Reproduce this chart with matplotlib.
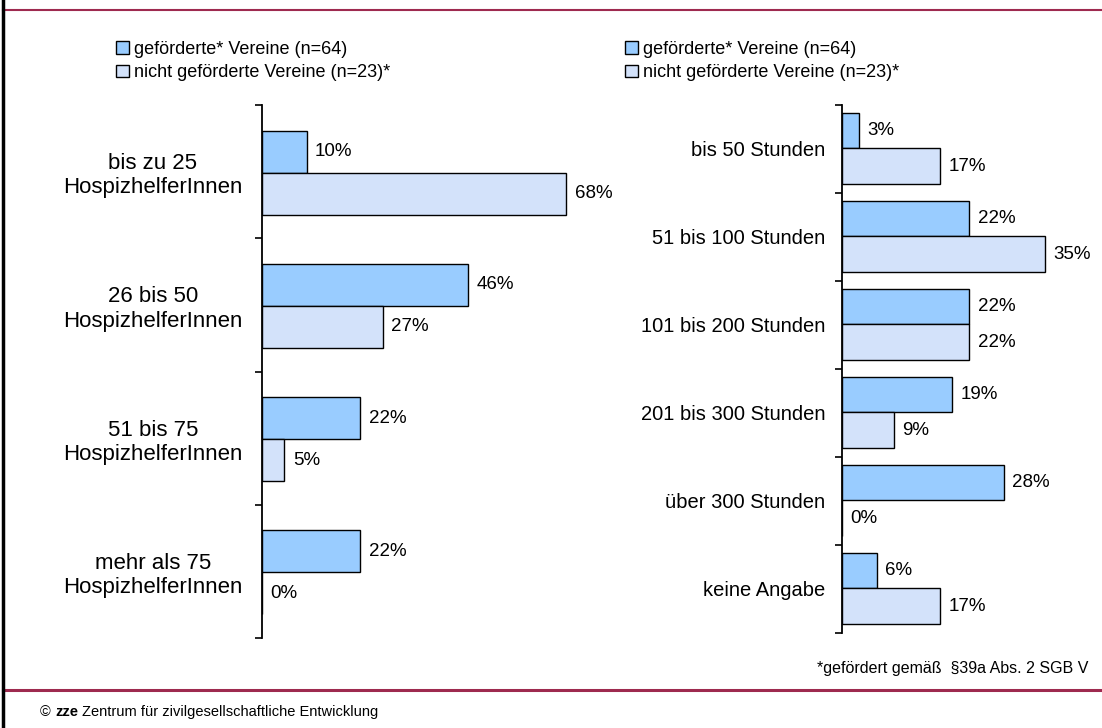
import matplotlib
matplotlib.use("Agg")
import matplotlib.pyplot as plt
from matplotlib.patches import Patch
from matplotlib.lines import Line2D
import numpy as np

plt.rcParams['font.family'] = ['Liberation Sans', 'DejaVu Sans']

# data
left_cats = ["bis zu 25\nHospizhelferInnen", "26 bis 50\nHospizhelferInnen",
             "51 bis 75\nHospizhelferInnen", "mehr als 75\nHospizhelferInnen"]
left_gef = [10, 46, 22, 22]
left_nicht = [68, 27, 5, 0]

right_cats = ["bis 50 Stunden", "51 bis 100 Stunden", "101 bis 200 Stunden",
              "201 bis 300 Stunden", "über 300 Stunden", "keine Angabe"]
right_gef = [3, 22, 22, 19, 28, 6]
right_nicht = [17, 35, 22, 9, 0, 17]

legend_labels = ["geförderte* Vereine (n=64)", "nicht geförderte Vereine (n=23)*"]
footnote = "*gefördert gemäß  §39a Abs. 2 SGB V"

c_gef = "#99CCFF"
c_nicht = "#D3E2FA"
c_line = "#9E2A4F"

W, H = 1102, 728
fig = plt.figure(figsize=(W / 100, H / 100), dpi=100)

# background axes for frame lines and footer
bg = fig.add_axes([0, 0, 1, 1], zorder=0)
bg.set_xlim(0, W)
bg.set_ylim(H, 0)
bg.axis('off')
bg.add_line(Line2D([3, W], [10, 10], color=c_line, lw=1.5))
bg.add_line(Line2D([3, W], [690, 690], color=c_line, lw=2.2))
bg.add_line(Line2D([3, 3], [0, H], color="black", lw=2.5))
bg.text(1088, 668, footnote, ha='right', va='center', fontsize=11.5)
t1 = bg.text(40, 712, "©", ha='left', va='center', fontsize=10.5)
t2 = bg.annotate("zze", xy=(1, 0.5), xycoords=t1, xytext=(3, 0), textcoords='offset points',
                 ha='left', va='center', fontsize=10.5, fontweight='bold')
bg.annotate("Zentrum für zivilgesellschaftliche Entwicklung", xy=(1, 0.5), xycoords=t2,
            xytext=(3, 0), textcoords='offset points', ha='left', va='center', fontsize=10.5)


def panel(rect, cats, gef, nicht, xmax, h, off, label_size, pad):
    ax = fig.add_axes(rect, zorder=1)
    n = len(cats)
    y = np.arange(n) + 0.5
    b1 = ax.barh(y - off, gef, height=h, align='edge', color=c_gef, edgecolor='black', lw=1)
    b2 = ax.barh(y - off + h, nicht, height=h, align='edge', color=c_nicht, edgecolor='black', lw=1)
    for bars in (b1, b2):
        for r in bars:
            v = r.get_width()
            ax.annotate(f"{v:.0f}%", xy=(v, r.get_y() + r.get_height() / 2),
                        xytext=(6, 0), textcoords='offset points',
                        ha='left', va='center', fontsize=13.5)
    ax.set_xlim(0, xmax)
    ax.set_ylim(n, 0)
    ax.set_xticks([])
    ax.set_yticks(y)
    ax.set_yticklabels(cats, fontsize=label_size, multialignment='center')
    ax.tick_params(axis='y', which='major', length=0, pad=pad)
    ax.set_yticks(np.arange(n + 1), minor=True)
    ax.tick_params(axis='y', which='minor', length=5, width=1.2, direction='out')
    for s in ('top', 'right', 'bottom'):
        ax.spines[s].set_visible(False)
    ax.spines['left'].set_linewidth(1.3)
    ax.patch.set_alpha(0)
    return ax


axl = panel([262 / W, 1 - 638 / H, 335.7 / W, 533 / H], left_cats, left_gef, left_nicht,
            75, 0.315, 0.307, 16, 14)
axr = panel([842 / W, 1 - 633 / H, 231.6 / W, 528 / H], right_cats, right_gef, right_nicht,
            40, 0.405, 0.412, 14.5, 12)

handles = [Patch(facecolor=c_gef, edgecolor='black', lw=1),
           Patch(facecolor=c_nicht, edgecolor='black', lw=1)]
for x0 in (116, 625):
    fig.legend(handles, legend_labels, loc='upper left', bbox_to_anchor=(x0 / W, 1 - 41 / H),
               frameon=False, fontsize=13, handlelength=0.7, handleheight=0.7,
               handletextpad=0.3, labelspacing=0.35, borderpad=0, borderaxespad=0)

fig.savefig("out.png", dpi=100)
